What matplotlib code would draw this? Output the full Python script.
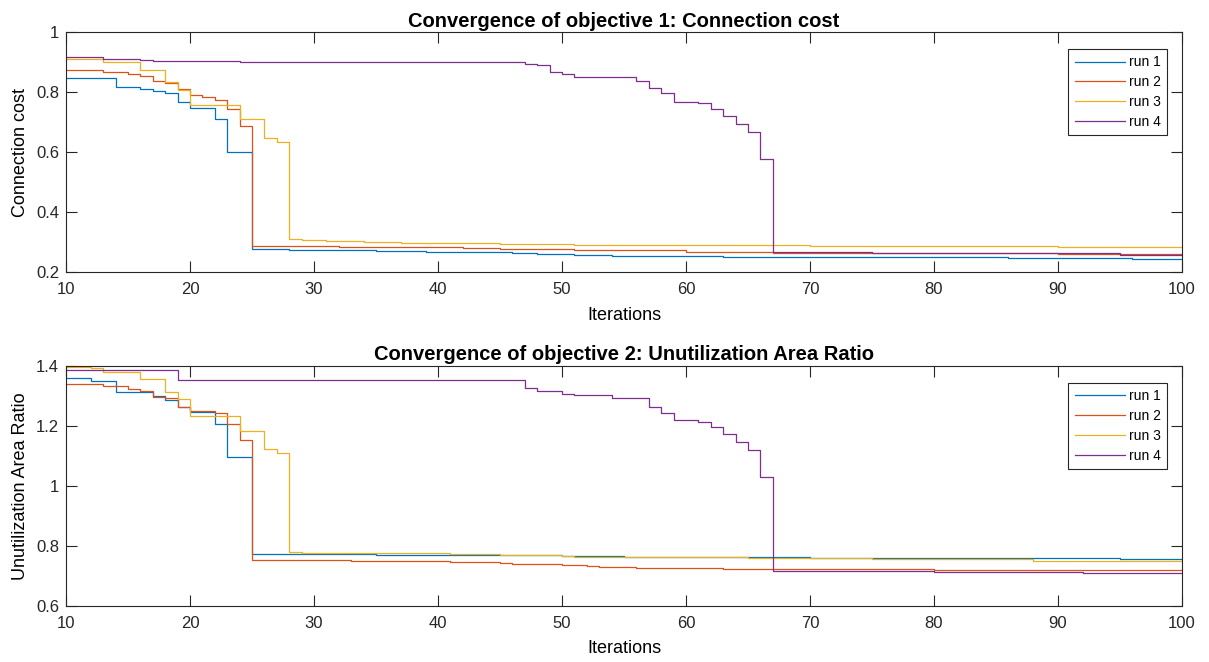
"""
Convergence of the two objectives over the iterations, four runs each.
Step curves in MATLAB style (box on, ticks inward), saved as out.png.
"""

import matplotlib
matplotlib.use("Agg")
import matplotlib.pyplot as plt

# # DATA (iteration where the value changes, value from there on)

runs = ["run 1", "run 2", "run 3", "run 4"]
colors = ["#0072BD", "#D95319", "#EDB120", "#7E2F8E"]

# objective 1: connection cost
cost_it_1 = [10, 14, 16, 17, 18, 19, 20, 22, 23, 25, 28, 35, 39, 46, 48, 51, 54, 63, 75, 86, 96]
cost_val_1 = [0.848, 0.818, 0.809, 0.805, 0.796, 0.768, 0.748, 0.709, 0.600, 0.278, 0.274,
              0.270, 0.267, 0.262, 0.259, 0.256, 0.253, 0.251, 0.249, 0.247, 0.245]
cost_it_2 = [10, 13, 15, 16, 17, 18, 19, 20, 21, 22, 23, 24, 25, 32, 42, 45, 51, 60, 63, 67, 80, 90]
cost_val_2 = [0.873, 0.868, 0.859, 0.853, 0.836, 0.831, 0.809, 0.789, 0.784, 0.772, 0.745,
              0.687, 0.287, 0.283, 0.279, 0.277, 0.272, 0.268, 0.266, 0.265, 0.263, 0.261]
cost_it_3 = [10, 13, 16, 18, 19, 20, 24, 26, 27, 28, 29, 31, 34, 37, 42, 45, 51, 60, 70, 80, 90, 96]
cost_val_3 = [0.911, 0.902, 0.874, 0.835, 0.806, 0.757, 0.709, 0.646, 0.633, 0.309, 0.306,
              0.303, 0.300, 0.298, 0.296, 0.292, 0.290, 0.289, 0.288, 0.286, 0.284, 0.282]
cost_it_4 = [10, 13, 16, 17, 23, 24, 47, 48, 49, 50, 51, 54, 56, 57, 58, 59, 61, 62, 63, 64,
             65, 66, 67, 75, 85, 95]
cost_val_4 = [0.917, 0.911, 0.907, 0.905, 0.903, 0.899, 0.895, 0.890, 0.867, 0.859, 0.852,
              0.851, 0.836, 0.815, 0.797, 0.768, 0.762, 0.743, 0.719, 0.692, 0.668, 0.576,
              0.268, 0.265, 0.262, 0.258]

# objective 2: unutilization area ratio
area_it_1 = [10, 12, 14, 17, 18, 19, 20, 22, 23, 25, 35, 42, 50, 55, 60, 70, 85, 95]
area_val_1 = [1.359, 1.351, 1.313, 1.301, 1.287, 1.264, 1.246, 1.208, 1.098, 0.774, 0.771,
              0.769, 0.767, 0.764, 0.762, 0.760, 0.759, 0.758]
area_it_2 = [10, 13, 15, 16, 17, 18, 19, 20, 22, 23, 24, 25, 33, 37, 41, 43, 45, 46, 50, 52,
             53, 56, 58, 63, 67, 80, 92]
area_val_2 = [1.340, 1.334, 1.324, 1.317, 1.298, 1.292, 1.264, 1.249, 1.242, 1.206, 1.153,
              0.753, 0.751, 0.749, 0.748, 0.746, 0.743, 0.740, 0.735, 0.732, 0.730, 0.727,
              0.725, 0.724, 0.722, 0.721, 0.720]
area_it_3 = [10, 12, 13, 16, 18, 19, 20, 24, 26, 27, 28, 29, 31, 41, 45, 50, 51, 65, 75, 88, 95]
area_val_3 = [1.398, 1.395, 1.379, 1.356, 1.313, 1.289, 1.234, 1.184, 1.123, 1.111, 0.781,
              0.778, 0.776, 0.773, 0.770, 0.767, 0.762, 0.759, 0.757, 0.751, 0.749]
area_it_4 = [10, 19, 47, 48, 50, 51, 54, 57, 58, 59, 61, 62, 63, 64, 65, 66, 67, 69, 70, 80, 92]
area_val_4 = [1.386, 1.353, 1.326, 1.318, 1.308, 1.302, 1.294, 1.263, 1.242, 1.220, 1.214,
              1.196, 1.173, 1.147, 1.121, 1.029, 0.718, 0.717, 0.715, 0.713, 0.709]

x_ticks = [10, 20, 30, 40, 50, 60, 70, 80, 90, 100]
cost_ticks = [0.2, 0.4, 0.6, 0.8, 1.0]
cost_labels = ["0.2", "0.4", "0.6", "0.8", "1"]
area_ticks = [0.6, 0.8, 1.0, 1.2, 1.4]
area_labels = ["0.6", "0.8", "1", "1.2", "1.4"]

# # STYLE

plt.rcParams['font.family'] = ['Liberation Sans', 'DejaVu Sans']
plt.rcParams['font.size'] = 12
axis_color = "#262626"
last_iter = 100

fig = plt.figure(figsize=(12.09, 6.62), dpi=100)
ax1 = fig.add_axes([0.0546, 0.589, 0.923, 0.3625])
ax2 = fig.add_axes([0.0546, 0.0846, 0.923, 0.3625])


def draw_panel(ax, its, vals, title, ylabel, yticks, ylabels):
    for it, val, name, col in zip(its, vals, runs, colors):
        # hold the last value to the end of the run
        ax.step(it + [last_iter], val + [val[-1]], where='post',
                color=col, lw=0.9, label=name)
    ax.set_xlim(10, 100)
    ax.set_ylim(yticks[0], yticks[-1])
    ax.set_xticks(x_ticks)
    ax.set_yticks(yticks)
    ax.set_yticklabels(ylabels)
    ax.set_title(title, fontweight='bold', fontsize=14.5, pad=4)
    ax.set_xlabel("Iterations", fontsize=13, labelpad=7)
    ax.set_ylabel(ylabel, fontsize=13, labelpad=5)
    ax.tick_params(direction='in', length=8, width=0.8, top=True, right=True,
                   colors=axis_color, labelcolor=axis_color, labelsize=12)
    ax.tick_params(axis='x', pad=7)
    ax.tick_params(axis='y', pad=5)
    for sp in ax.spines.values():
        sp.set_color(axis_color)
        sp.set_linewidth(0.8)
    leg = ax.legend(loc='upper right', bbox_to_anchor=(0.9866, 0.929),
                    borderaxespad=0, fancybox=False, framealpha=1,
                    edgecolor=axis_color, handlelength=3.6, borderpad=0.45,
                    labelspacing=0.42, handletextpad=0.3, fontsize=10)
    leg.get_frame().set_linewidth(0.8)


draw_panel(ax1, [cost_it_1, cost_it_2, cost_it_3, cost_it_4],
           [cost_val_1, cost_val_2, cost_val_3, cost_val_4],
           "Convergence of objective 1: Connection cost", "Connection cost",
           cost_ticks, cost_labels)
draw_panel(ax2, [area_it_1, area_it_2, area_it_3, area_it_4],
           [area_val_1, area_val_2, area_val_3, area_val_4],
           "Convergence of objective 2: Unutilization Area Ratio",
           "Unutilization Area Ratio", area_ticks, area_labels)

plt.savefig("out.png", dpi=100)
plt.close()
